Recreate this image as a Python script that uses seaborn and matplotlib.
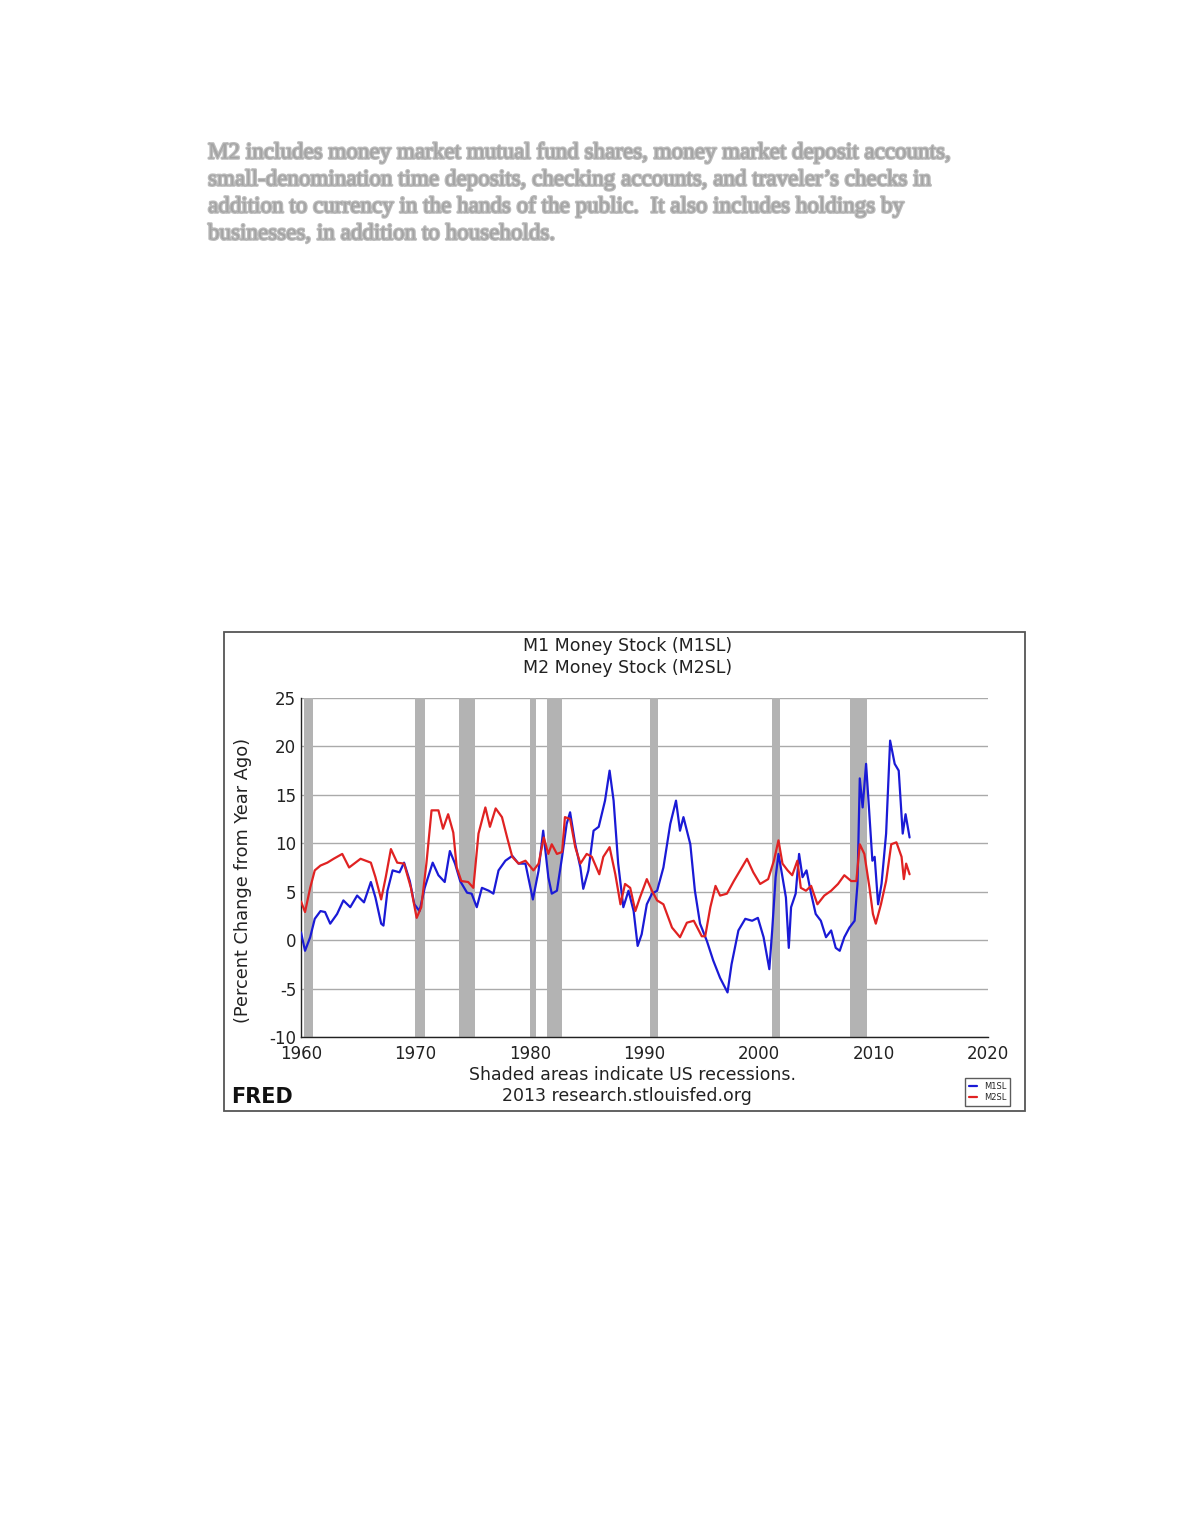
import pandas as pd
import matplotlib
matplotlib.use('Agg')
import matplotlib.pyplot as plt
import matplotlib.patheffects as pe
from matplotlib.patches import Rectangle
import seaborn as sns

# M1 and M2 year-over-year percent change
m1_years = [1960.0, 1960.35, 1960.8, 1961.2, 1961.7, 1962.1, 1962.55, 1963.15, 1963.7, 1964.3,
            1964.9, 1965.5, 1966.1, 1966.5, 1967.0, 1967.2, 1967.55, 1968.0, 1968.6, 1969.0,
            1969.5, 1969.9, 1970.35, 1970.8, 1971.5, 1972.0, 1972.55, 1973.0, 1973.45, 1973.9,
            1974.5, 1974.9, 1975.35, 1975.8, 1976.4, 1976.8, 1977.25, 1977.85, 1978.45, 1979.0,
            1979.6, 1980.25, 1980.75, 1981.15, 1981.6, 1981.9, 1982.35, 1982.8, 1983.2, 1983.5,
            1983.95, 1984.4, 1984.65, 1985.1, 1985.55, 1986.0, 1986.55, 1986.95, 1987.3, 1987.7,
            1988.15, 1988.6, 1989.05, 1989.4, 1989.75, 1990.2, 1990.65, 1991.1, 1991.65, 1992.25,
            1992.75, 1993.1, 1993.4, 1994.0, 1994.4, 1994.85, 1995.45, 1996.0, 1996.6, 1997.25,
            1997.6, 1998.2, 1998.8, 1999.4, 1999.9, 2000.4, 2000.9, 2001.15, 2001.45, 2001.7,
            2002.05, 2002.35, 2002.6, 2002.8, 2003.2, 2003.5, 2003.8, 2004.15, 2004.55, 2004.95,
            2005.4, 2005.85, 2006.3, 2006.7, 2007.05, 2007.45, 2007.9, 2008.35, 2008.6, 2008.8,
            2009.05, 2009.35, 2009.6, 2009.9, 2010.1, 2010.4, 2010.7, 2011.1, 2011.45, 2011.85,
            2012.2, 2012.55, 2012.8, 2013.15]
m1_values = [0.8, -1.1, 0.3, 2.2, 3.0, 2.9, 1.7, 2.7, 4.1, 3.4,
             4.6, 3.9, 6.0, 4.4, 1.7, 1.5, 5.1, 7.2, 7.0, 8.0,
             6.1, 3.7, 3.0, 5.4, 8.0, 6.7, 6.0, 9.2, 7.9, 6.1,
             4.9, 4.8, 3.4, 5.4, 5.1, 4.8, 7.2, 8.2, 8.7, 7.9,
             7.9, 4.2, 7.2, 11.3, 6.5, 4.8, 5.1, 8.6, 12.0, 13.2,
             9.9, 7.5, 5.3, 7.2, 11.3, 11.7, 14.4, 17.5, 14.4, 7.9,
             3.4, 5.1, 3.0, -0.6, 0.6, 3.7, 4.8, 5.1, 7.5, 12.0,
             14.4, 11.3, 12.7, 9.9, 5.1, 1.7, -0.1, -2.1, -3.9, -5.4,
             -2.5, 1.0, 2.2, 2.0, 2.3, 0.3, -3.0, 1.0, 6.5, 8.9,
             6.5, 4.4, -0.8, 3.4, 4.8, 8.9, 6.5, 7.2, 4.8, 2.7,
             2.0, 0.3, 1.0, -0.8, -1.1, 0.3, 1.3, 2.0, 5.8, 16.7,
             13.7, 18.2, 13.7, 8.2, 8.6, 3.7, 5.8, 11.0, 20.6, 18.2,
             17.5, 11.0, 13.0, 10.6]

m2_years = [1960.0, 1960.35, 1960.8, 1961.2, 1961.7, 1962.3, 1962.85, 1963.6, 1964.2, 1965.2,
            1966.1, 1966.5, 1967.0, 1967.4, 1967.85, 1968.4, 1969.0, 1969.6, 1970.1, 1970.5,
            1970.95, 1971.4, 1972.0, 1972.4, 1972.85, 1973.3, 1973.6, 1974.0, 1974.6, 1975.05,
            1975.5, 1976.1, 1976.5, 1977.0, 1977.55, 1978.0, 1978.45, 1979.0, 1979.6, 1980.3,
            1980.75, 1981.2, 1981.6, 1981.9, 1982.35, 1982.8, 1983.05, 1983.5, 1983.95, 1984.4,
            1984.95, 1985.4, 1986.05, 1986.4, 1986.95, 1987.45, 1987.9, 1988.3, 1988.75, 1989.2,
            1989.6, 1990.2, 1990.65, 1991.1, 1991.65, 1992.4, 1993.1, 1993.7, 1994.3, 1995.0,
            1995.3, 1995.75, 1996.2, 1996.6, 1997.2, 1997.8, 1998.35, 1998.95, 1999.5, 2000.1,
            2000.8, 2001.3, 2001.7, 2002.05, 2002.5, 2002.9, 2003.35, 2003.65, 2004.1, 2004.55,
            2005.1, 2005.7, 2006.3, 2006.9, 2007.45, 2008.05, 2008.5, 2008.8, 2009.2, 2009.65,
            2009.95, 2010.2, 2010.65, 2011.1, 2011.55, 2012.0, 2012.45, 2012.65, 2012.85, 2013.15]
m2_values = [4.0, 2.9, 5.4, 7.2, 7.7, 8.0, 8.4, 8.9, 7.5, 8.4,
             8.0, 6.5, 4.2, 6.5, 9.4, 8.0, 7.9, 5.4, 2.3, 3.4,
             7.9, 13.4, 13.4, 11.5, 13.0, 11.1, 7.5, 6.1, 6.0, 5.4,
             11.0, 13.7, 11.7, 13.6, 12.7, 10.6, 8.6, 7.9, 8.2, 7.2,
             7.9, 10.6, 8.9, 9.9, 8.9, 9.1, 12.7, 12.5, 9.6, 7.9,
             8.9, 8.6, 6.8, 8.6, 9.6, 6.8, 3.7, 5.8, 5.4, 3.0,
             4.4, 6.3, 5.1, 4.1, 3.7, 1.3, 0.3, 1.8, 2.0, 0.4,
             0.4, 3.4, 5.6, 4.6, 4.8, 6.1, 7.2, 8.4, 7.0, 5.8,
             6.3, 8.2, 10.3, 7.9, 7.2, 6.7, 8.2, 5.4, 5.1, 5.6,
             3.7, 4.6, 5.1, 5.8, 6.7, 6.1, 6.1, 9.9, 8.9, 5.4,
             2.7, 1.7, 3.7, 6.1, 9.9, 10.1, 8.6, 6.3, 7.9, 6.8]

# US recessions (NBER)
recession_starts = [1960.25, 1969.92, 1973.83, 1980.0, 1981.5, 1990.5, 2001.17, 2007.92]
recession_ends = [1961.08, 1970.83, 1975.17, 1980.5, 1982.83, 1991.17, 2001.83, 2009.42]

x_ticks = [1960, 1970, 1980, 1990, 2000, 2010, 2020]
y_ticks = [-10, -5, 0, 5, 10, 15, 20, 25]

paragraph = [
    "M2 includes money market mutual fund shares, money market deposit accounts,",
    "small-denomination time deposits, checking accounts, and traveler\u2019s checks in",
    "addition to currency in the hands of the public.  It also includes holdings by",
    "businesses, in addition to households.",
]

df = pd.concat([
    pd.DataFrame({'year': m1_years, 'value': m1_values, 'series': 'M1SL'}),
    pd.DataFrame({'year': m2_years, 'value': m2_values, 'series': 'M2SL'}),
])

sns.set_style('white')
plt.rcParams['font.family'] = ['DejaVu Sans']
plt.rcParams['axes.unicode_minus'] = False

fig = plt.figure(figsize=(11.8, 15.27), dpi=100)
ax = fig.add_axes([0.2551, 0.3209, 0.5822, 0.2220])

# soft, blurred-looking paragraph above the chart
for i, line in enumerate(paragraph):
    fig.text(0.1763, 1 - (153 + 27 * i) / 1527, line, family='Liberation Serif', fontsize=16.6,
             color='#a4a4a4', va='center', ha='left',
             path_effects=[pe.withStroke(linewidth=1.8, foreground='#bcbcbc')])

# chart frame
fig.patches.append(Rectangle((0.1898, 0.2724), 0.6788, 0.3137, transform=fig.transFigure,
                             fill=False, edgecolor='#555555', linewidth=1.3))

for s, e in zip(recession_starts, recession_ends):
    ax.axvspan(s, e, color='#b3b3b3', linewidth=0, zorder=1)

sns.lineplot(data=df, x='year', y='value', hue='series', palette={'M1SL': '#1a1ad6', 'M2SL': '#e02222'},
             estimator=None, sort=False, linewidth=1.6, ax=ax, zorder=3)

ax.set_xlim(1960, 2020)
ax.set_ylim(-10, 25)
ax.set_xticks(x_ticks)
ax.set_yticks(y_ticks)
ax.tick_params(axis='both', direction='in', labelsize=12, colors='#222222', length=5, width=1)
ax.tick_params(axis='x', pad=6)
ax.yaxis.grid(True, color='#aaaaaa', linewidth=1, zorder=0)
ax.xaxis.grid(False)
ax.set_axisbelow(True)
for side in ['top', 'right']:
    ax.spines[side].set_visible(False)
for side in ['left', 'bottom']:
    ax.spines[side].set_color('#222222')
    ax.spines[side].set_linewidth(1)
ax.set_xlabel('')
ax.set_ylabel('(Percent Change from Year Ago)', fontsize=12.8, color='#222222')
ax.yaxis.set_label_coords(-0.072, 0.463)

fig.text(0.532, 1 - 646 / 1527, 'M1 Money Stock (M1SL)', ha='center', va='center', fontsize=12.5, color='#222222')
fig.text(0.532, 1 - 668 / 1527, 'M2 Money Stock (M2SL)', ha='center', va='center', fontsize=12.5, color='#222222')
fig.text(0.536, 1 - 1075 / 1527, 'Shaded areas indicate US recessions.', ha='center', va='center',
         fontsize=12.5, color='#222222')
fig.text(0.531, 1 - 1096 / 1527, '2013 research.stlouisfed.org', ha='center', va='center',
         fontsize=12.5, color='#222222')
fig.text(0.196, 1 - 1097 / 1527, 'FRED', ha='left', va='center', fontsize=15, fontweight='bold',
         color='#111111')

sns.move_legend(ax, loc='center', bbox_to_anchor=(0.8369, 0.2849), bbox_transform=fig.transFigure,
                title=None, fontsize=6, frameon=True, fancybox=False, edgecolor='#333333',
                handlelength=1, handletextpad=0.8, borderpad=0.5, labelspacing=0.3)
ax.get_legend().get_frame().set_linewidth(1)

fig.savefig('out.png', dpi=100, facecolor='white')
